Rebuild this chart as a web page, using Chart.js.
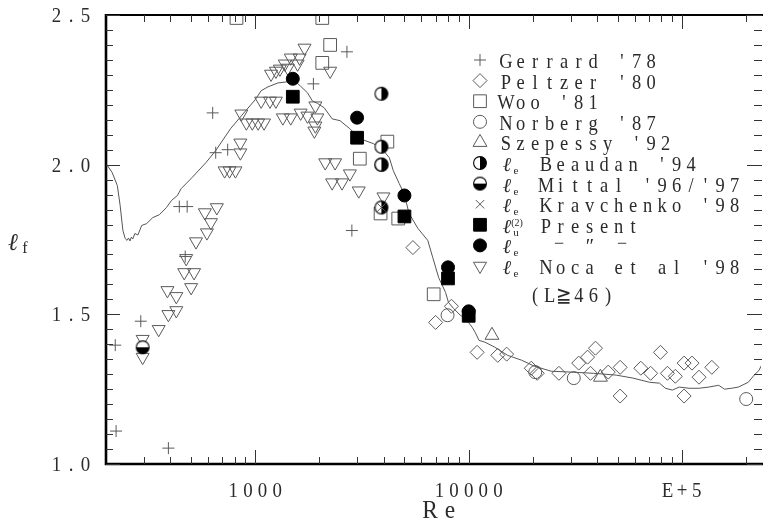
<!DOCTYPE html>
<html><head><meta charset="utf-8">
<script src="https://cdn.jsdelivr.net/npm/chart.js@4.4.0/dist/chart.umd.min.js"></script>
<style>html,body{margin:0;padding:0;background:#fff}#wrap{position:relative;width:771px;height:523px}</style>
</head><body><div id="wrap"><canvas id="c"></canvas></div>
<script>
// ---------- axis definitions ----------
const xRange = [200, 234000];
const yRange = [1.0, 2.5];
const xTickValues = [1000, 10000, 100000];
const xTickLabels = ['1000', '10000', 'E+5'];
const yTickValues = [1.0, 1.5, 2.0, 2.5];
const yTickLabels = ['1.0', '1.5', '2.0', '2.5'];
const xTitle = 'Re';

// ---------- series (Re, l_f) ----------
const gerrardRe = [632, 653, 743, 441, 480, 470, 291, 221, 223, 392, 1873, 2689, 2836];
const gerrardLf = [2.173, 2.04, 2.05, 1.86, 1.86, 1.693, 1.477, 1.397, 1.11, 1.053, 2.27, 2.377, 1.78];

const peltzerRe = [5480, 7000, 8300, 10950, 13680, 15060, 19640, 20940, 26470, 32760, 36040, 39260, 37190, 45060, 51210, 51210, 64000, 71150, 79100, 85300, 92900, 102100, 111200, 102100, 119900, 137700];
const peltzerLf = [1.723, 1.473, 1.527, 1.373, 1.363, 1.367, 1.32, 1.303, 1.303, 1.337, 1.357, 1.387, 1.303, 1.307, 1.323, 1.227, 1.32, 1.303, 1.373, 1.303, 1.293, 1.337, 1.337, 1.227, 1.29, 1.323];

const wooRe = [817, 2061, 2244, 2061, 4159, 3090, 3865, 4677, 6855];
const wooLf = [2.49, 2.49, 2.40, 2.34, 2.077, 2.02, 1.837, 1.82, 1.567];

const norbergRe = [7960, 20500, 31060, 199500];
const norbergLf = [1.497, 1.307, 1.287, 1.217];

const szepessyRe = [12850, 41400];
const szepessyLf = [1.43, 1.29];

const beaudanRe = [3900, 3900, 3900, 3900];
const beaudanLf = [2.237, 2.06, 2.0, 1.857];

const mittalRe = [297, 3900];
const mittalLf = [1.39, 2.0];

const kravchenkoRe = [3900];
const kravchenkoLf = [1.857];

const presentLuRe = [1500, 3000, 5000, 8000, 10000];
const presentLuLf = [2.227, 2.09, 1.827, 1.62, 1.495];

const presentLeRe = [1500, 3000, 5000, 8000, 10000];
const presentLeLf = [2.287, 2.157, 1.897, 1.657, 1.51];

const nocaRe = [297, 297, 353, 392, 427, 388, 427, 501, 465, 517, 475, 528, 594, 581, 620, 661, 719, 758, 808, 852, 852, 861, 909, 969, 1032, 1100, 1066, 1173, 1250, 1186, 1250, 1305, 1376, 1467, 1421, 1580, 1614, 1702, 1347, 1467, 1632, 1757, 1913, 1954, 1913, 1893, 2244, 2128, 2367, 2293, 2550, 2776, 3055, 3987];
const nocaLf = [1.417, 1.357, 1.45, 1.5, 1.513, 1.58, 1.56, 1.59, 1.64, 1.64, 1.687, 1.743, 1.773, 1.84, 1.807, 1.857, 1.98, 1.98, 1.98, 2.073, 2.04, 2.17, 2.14, 2.14, 2.14, 2.14, 2.213, 2.213, 2.213, 2.303, 2.313, 2.32, 2.337, 2.357, 2.323, 2.337, 2.357, 2.39, 2.157, 2.157, 2.173, 2.163, 2.197, 2.157, 2.13, 2.113, 2.313, 2.007, 2.007, 1.94, 1.94, 1.97, 1.913, 1.893];

const curveRe = [203, 214, 226, 233, 240, 246, 251, 255, 259, 263, 267, 273, 282, 294, 310, 331, 356, 384, 405, 432,
  450, 506, 588, 653, 766, 861, 1000, 1066, 1148, 1277, 1421, 1530, 1632, 1757, 1853, 1954, 2105, 2293, 2496, 2776,
  3088, 3584, 3987, 4249, 4434, 4725, 4983, 5256, 5782, 6431, 6784, 7230, 7792, 8039, 8480, 9136, 9634, 10380, 10720, 11180,
  11920, 13260, 15220, 17660, 20290, 24310, 30070, 38400, 49050, 58770, 70400, 78300, 83470, 89920, 96850, 107700, 119800, 133300, 148200, 158000,
  170200, 183400, 204000, 217400, 229300, 234000];
const curveLf = [1.997, 1.973, 1.93, 1.863, 1.78, 1.753, 1.747, 1.755, 1.745, 1.758, 1.752, 1.77, 1.765, 1.797, 1.803, 1.823, 1.833, 1.857, 1.88, 1.897,
  1.92, 1.957, 2.007, 2.047, 2.12, 2.163, 2.217, 2.247, 2.26, 2.273, 2.277, 2.28, 2.262, 2.24, 2.213, 2.205, 2.19, 2.153, 2.147, 2.12,
  2.087, 2.07, 2.047, 2.023, 1.98, 1.937, 1.903, 1.837, 1.787, 1.747, 1.69, 1.623, 1.573, 1.54, 1.52, 1.497, 1.487, 1.457, 1.44, 1.413,
  1.407, 1.39, 1.363, 1.347, 1.327, 1.31, 1.307, 1.303, 1.297, 1.287, 1.273, 1.27, 1.253, 1.247, 1.257, 1.253, 1.253, 1.257, 1.263, 1.25,
  1.253, 1.257, 1.273, 1.297, 1.313, 1.327];

// ---------- styling ----------
const TXT = '#2b2b2b';
const MK = '#5a5a5a';
const SERIF = '"Liberation Serif","Times New Roman",serif';

function pts(xs, ys) { return xs.map((x, i) => ({ x: x, y: ys[i] })); }

function halfCircle(kind) {
  const c = document.createElement('canvas');
  c.width = 16; c.height = 16;
  const g = c.getContext('2d');
  const cx = 8, cy = 8, r = 6.4;
  g.fillStyle = '#fff';
  g.beginPath(); g.arc(cx, cy, r, 0, 2 * Math.PI); g.fill();
  g.fillStyle = '#000';
  g.beginPath();
  if (kind === 'right') g.arc(cx, cy, r, -Math.PI / 2, Math.PI / 2);
  else g.arc(cx, cy, r, 0, Math.PI);
  g.closePath(); g.fill();
  g.strokeStyle = '#000'; g.lineWidth = 1.1;
  g.beginPath(); g.arc(cx, cy, r, 0, 2 * Math.PI); g.stroke();
  return c;
}
const imgRight = halfCircle('right');
const imgBottom = halfCircle('bottom');

const NONE = 'rgba(0,0,0,0)';
const styles = {
  gerrard: { pointStyle: 'cross', radius: 6, borderColor: MK, backgroundColor: NONE, borderWidth: 1 },
  peltzer: { pointStyle: 'rectRot', radius: 7, borderColor: MK, backgroundColor: NONE, borderWidth: 1 },
  woo: { pointStyle: 'rect', radius: 9, borderColor: MK, backgroundColor: NONE, borderWidth: 1 },
  norberg: { pointStyle: 'circle', radius: 6.5, borderColor: MK, backgroundColor: NONE, borderWidth: 1 },
  szepessy: { pointStyle: 'triangle', radius: 8, borderColor: MK, backgroundColor: NONE, borderWidth: 1 },
  beaudan: { pointStyle: imgRight, radius: 7, borderColor: '#000', backgroundColor: '#000', borderWidth: 1 },
  mittal: { pointStyle: imgBottom, radius: 7, borderColor: '#000', backgroundColor: '#000', borderWidth: 1 },
  kravchenko: { pointStyle: 'crossRot', radius: 6, borderColor: MK, backgroundColor: NONE, borderWidth: 1 },
  presentLu: { pointStyle: 'rect', radius: 9, borderColor: '#000', backgroundColor: '#000', borderWidth: 1 },
  presentLe: { pointStyle: 'circle', radius: 6.5, borderColor: '#000', backgroundColor: '#000', borderWidth: 1 },
  noca: { pointStyle: 'triangle', radius: 7.5, rotation: 180, borderColor: MK, backgroundColor: NONE, borderWidth: 1 }
};

function ds(label, xs, ys, st) {
  return {
    label: label, data: pts(xs, ys), showLine: false,
    pointStyle: st.pointStyle, pointRadius: st.radius, pointHoverRadius: st.radius,
    pointRotation: st.rotation || 0,
    pointBorderColor: st.borderColor, pointBackgroundColor: st.backgroundColor,
    pointBorderWidth: st.borderWidth, borderColor: st.borderColor, backgroundColor: st.backgroundColor
  };
}

const datasets = [
  ds('Present le', presentLeRe, presentLeLf, styles.presentLe),
  ds('Present lu', presentLuRe, presentLuLf, styles.presentLu),
  ds('Kravchenko', kravchenkoRe, kravchenkoLf, styles.kravchenko),
  ds('Beaudan', beaudanRe, beaudanLf, styles.beaudan),
  ds('Mittal', mittalRe, mittalLf, styles.mittal),
  ds('Gerrard', gerrardRe, gerrardLf, styles.gerrard),
  ds('Peltzer', peltzerRe, peltzerLf, styles.peltzer),
  ds('Woo', wooRe, wooLf, styles.woo),
  ds('Norberg', norbergRe, norbergLf, styles.norberg),
  ds('Szepessy', szepessyRe, szepessyLf, styles.szepessy),
  ds('Noca', nocaRe, nocaLf, styles.noca),
  { label: 'curve', data: pts(curveRe, curveLf), showLine: true, pointRadius: 0, borderColor: '#555', borderWidth: 1, tension: 0, fill: false }
];

// ---------- drawing helpers ----------
function spacedText(ctx, str, cx0, baseY, pitch, size, squeeze, font) {
  ctx.save();
  ctx.font = size + 'px ' + (font || SERIF);
  ctx.textAlign = 'center'; ctx.textBaseline = 'alphabetic'; ctx.fillStyle = TXT;
  Array.from(str).forEach((ch, i) => {
    if (ch === ' ') return;
    ctx.save(); ctx.translate(cx0 + i * pitch, baseY); ctx.scale(squeeze, 1); ctx.fillText(ch, 0, 0); ctx.restore();
  });
  ctx.restore();
}
function centeredSpaced(ctx, str, cx, baseY, pitch, size, squeeze) {
  const n = Array.from(str).length;
  spacedText(ctx, str, cx - (n - 1) * pitch / 2, baseY, pitch, size, squeeze);
}
function ell(ctx, x, baseY, size) {
  ctx.save(); ctx.font = 'italic ' + size + 'px "DejaVu Serif",serif'; ctx.fillStyle = TXT;
  ctx.textAlign = 'center'; ctx.textBaseline = 'alphabetic'; ctx.fillText('\u2113', x, baseY); ctx.restore();
}
function small(ctx, s, x, baseY, size) {
  ctx.save(); ctx.font = size + 'px ' + SERIF; ctx.fillStyle = TXT;
  ctx.textAlign = 'center'; ctx.textBaseline = 'alphabetic'; ctx.fillText(s, x, baseY); ctx.restore();
}

const legendRows = [
  { key: 'gerrard', text: "Gerrard '78" },
  { key: 'peltzer', text: "Peltzer '80" },
  { key: 'woo', text: "Woo '81" },
  { key: 'norberg', text: "Norberg '87" },
  { key: 'szepessy', text: "Szepessy '92" },
  { key: 'beaudan', sub: 'e', text: "Beaudan '94" },
  { key: 'mittal', sub: 'e', text: "Mittal '96/'97" },
  { key: 'kravchenko', sub: 'e', text: "Kravchenko '98" },
  { key: 'presentLu', sub: 'u', sup: '(2)', text: 'Present' },
  { key: 'presentLe', sub: 'e', ditto: true },
  { key: 'noca', sub: 'e', text: "Noca et al '98" }
];

const axesPlugin = {
  id: 'axesPlugin',
  afterDraw(chart) {
    const ctx = chart.ctx, xs = chart.scales.x, ys = chart.scales.y, a = chart.chartArea;
    const L = a.left, R = a.right, T = a.top, B = a.bottom;
    ctx.save();
    // frame
    ctx.strokeStyle = '#000';
    ctx.lineWidth = 2.6;
    ctx.beginPath(); ctx.moveTo(L, T - 1); ctx.lineTo(L, B); ctx.lineTo(R + 2, B); ctx.stroke();
    ctx.lineWidth = 2;
    ctx.beginPath(); ctx.moveTo(L, T); ctx.lineTo(R + 2, T); ctx.stroke();
    // x ticks
    ctx.lineWidth = 1; ctx.strokeStyle = '#333';
    const xt = [];
    for (let d = 2; d <= 5; d++) for (let k = 1; k <= 9; k++) {
      const v = k * Math.pow(10, d);
      if (v > xRange[0] && v < xRange[1]) xt.push({ v: v, major: xTickValues.indexOf(v) >= 0 });
    }
    xt.forEach(t => {
      const px = Math.round(xs.getPixelForValue(t.v)) + 0.5;
      const len = t.major ? 14 : 7;
      ctx.beginPath(); ctx.moveTo(px, B); ctx.lineTo(px, B - len); ctx.stroke();
      ctx.beginPath(); ctx.moveTo(px, T); ctx.lineTo(px, T + len); ctx.stroke();
    });
    // y ticks
    for (let i = 0; i <= 30; i++) {
      const v = yRange[0] + i * 0.05;
      const major = i % 10 === 0;
      const py = Math.round(ys.getPixelForValue(v)) + 0.5;
      const len = major ? 14 : 7;
      ctx.beginPath(); ctx.moveTo(L, py); ctx.lineTo(L + len, py); ctx.stroke();
      ctx.beginPath(); ctx.moveTo(R + 1, py); ctx.lineTo(R + 1 - len - 1, py); ctx.stroke();
    }
    // tick labels
    xTickValues.forEach((v, i) => centeredSpaced(ctx, xTickLabels[i], xs.getPixelForValue(v), 497, 14.6, 21, 0.9));
    yTickValues.forEach((v, i) => centeredSpaced(ctx, yTickLabels[i], 71, ys.getPixelForValue(v) + 7, 14.5, 21, 0.9));
    // titles
    spacedText(ctx, xTitle, 430, 518, 20, 26, 0.9);
    ell(ctx, 13, 250, 24);
    small(ctx, 'f', 25, 253, 16);
    // legend
    const symX = 480;
    legendRows.forEach((r, i) => {
      const y = 60 + 20.6 * i;
      const st = styles[r.key];
      ctx.save();
      ctx.strokeStyle = st.borderColor; ctx.fillStyle = st.backgroundColor; ctx.lineWidth = 1;
      Chart.helpers.drawPoint(ctx, { pointStyle: st.pointStyle, radius: st.radius, rotation: st.rotation || 0, borderWidth: 1 }, symX, y);
      ctx.restore();
      if (!r.sub) {
        spacedText(ctx, r.text, 506, y + 8, 14.5, 21, 0.88);
      } else {
        ell(ctx, 507, y + 8, 20);
        small(ctx, r.sub, 516, y + 11, 11);
        if (r.sup) small(ctx, r.sup, 517, y + 1, 10);
        if (r.ditto) {
          spacedText(ctx, '\u2212', 559, y + 4, 10, 18, 1);
          spacedText(ctx, '\u2033', 590, y + 8, 10, 20, 1);
          spacedText(ctx, '\u2212', 622, y + 4, 10, 18, 1);
        } else {
          spacedText(ctx, r.text, 546, y + 8, 14.5, 21, 0.88);
        }
      }
    });
    spacedText(ctx, '(L\u226746)', 535, 302, 14.6, 21, 0.88);
    ctx.restore();
  }
};

new Chart(document.getElementById('c'), {
  type: 'scatter',
  data: { datasets: datasets },
  options: {
    responsive: true, maintainAspectRatio: false, animation: false,
    layout: { padding: { left: 106, top: 15, right: 1, bottom: 59 } },
    plugins: { legend: { display: false }, tooltip: { enabled: false } },
    scales: {
      x: { type: 'logarithmic', min: xRange[0], max: xRange[1], display: false },
      y: { type: 'linear', min: yRange[0], max: yRange[1], display: false }
    }
  },
  plugins: [axesPlugin]
});
</script>
</body></html>
